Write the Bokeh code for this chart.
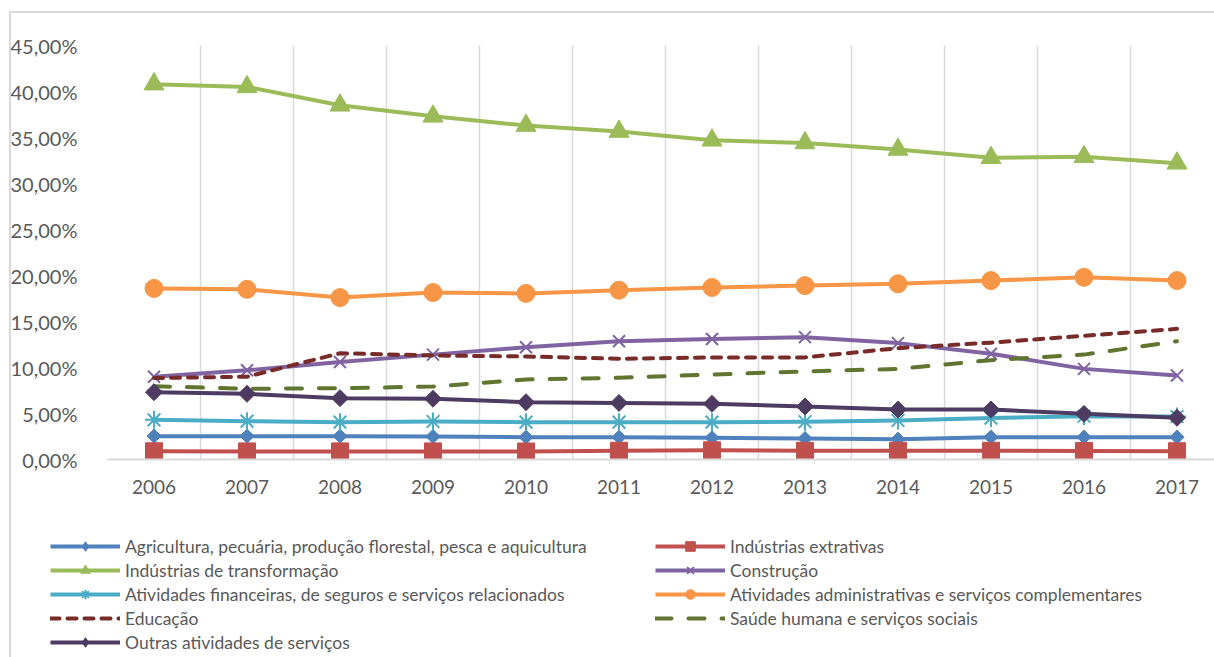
import math
from bokeh.plotting import figure
from bokeh.layouts import column
from bokeh.models import Range1d, FixedTicker, Legend, LegendItem, InlineStyleSheet
from bokeh.embed import file_html
from bokeh.resources import INLINE

# ---------------- data ----------------
years = [2006, 2007, 2008, 2009, 2010, 2011, 2012, 2013, 2014, 2015, 2016, 2017]

agricultura = [2.54, 2.54, 2.54, 2.50, 2.43, 2.43, 2.36, 2.28, 2.21, 2.43, 2.43, 2.43]
extrativas = [0.90, 0.88, 0.88, 0.88, 0.87, 0.95, 1.00, 0.95, 0.95, 0.95, 0.92, 0.90]
transformacao = [40.8, 40.5, 38.5, 37.3, 36.3, 35.65, 34.7, 34.4, 33.7, 32.8, 32.9, 32.2]
construcao = [9.0, 9.7, 10.6, 11.4, 12.2, 12.86, 13.1, 13.3, 12.65, 11.5, 9.85, 9.13]
financeiras = [4.31, 4.17, 4.06, 4.13, 4.06, 4.06, 4.06, 4.10, 4.24, 4.50, 4.70, 4.67]
administrativas = [18.6, 18.5, 17.6, 18.15, 18.05, 18.4, 18.7, 18.9, 19.1, 19.45, 19.8, 19.45]
educacao = [8.85, 9.0, 11.55, 11.3, 11.2, 10.95, 11.1, 11.1, 12.1, 12.7, 13.45, 14.2]
saude = [7.97, 7.68, 7.75, 7.93, 8.7, 8.88, 9.24, 9.57, 9.85, 10.8, 11.4, 12.86]
outras = [7.32, 7.14, 6.67, 6.60, 6.23, 6.15, 6.05, 5.76, 5.43, 5.43, 4.96, 4.53]

y_ticks = [0, 5, 10, 15, 20, 25, 30, 35, 40, 45]

# name, values, color, dash, marker, size, angle, legend marker, legend size
series = [
    ("Agricultura, pecuária, produção florestal, pesca e aquicultura", agricultura, "#4F81BD", "solid", "square", 10, math.pi / 4, "diamond", 14),
    ("Indústrias extrativas", extrativas, "#C0504D", "solid", "square", 17, 0, "square", 13),
    ("Indústrias de transformação", transformacao, "#9BBB59", "solid", "triangle", 20, 0, "triangle", 13),
    ("Construção", construcao, "#8064A2", "solid", "x", 17, 0, "x", 11),
    ("Atividades financeiras, de seguros e serviços relacionados", financeiras, "#4BACC6", "solid", "asterisk", 18, 0, "asterisk", 11),
    ("Atividades administrativas e serviços complementares", administrativas, "#F79646", "solid", "circle", 18, 0, "circle", 14),
    ("Educação", educacao, "#772C2A", "9 8", None, 0, 0, None, 0),
    ("Saúde humana e serviços sociais", saude, "#5F7530", "16 17", None, 0, 0, None, 0),
    ("Outras atividades de serviços", outras, "#4D3B62", "solid", "square", 12, math.pi / 4, "diamond", 15),
]

FONT = "Lato"
TEXT = "#595959"
GRID = "#D9D9D9"

px_per_year = 93.0
frame_w = 1214 - 107
TOP_H = 520
p = figure(
    width=1214, height=TOP_H,
    output_backend="svg", toolbar_location=None,
    x_range=Range1d(years[0] - 0.5, years[0] - 0.5 + frame_w / px_per_year),
    y_range=Range1d(0, 45),
    min_border_left=107, min_border_right=0, min_border_top=45, min_border_bottom=TOP_H - 459,
)
p.frame_align = False
p.outline_line_color = None
p.background_fill_color = "white"
p.border_fill_color = "white"

# grid
p.ygrid.grid_line_color = None
p.xgrid.ticker = FixedTicker(ticks=[y - 0.5 for y in years] + [years[-1] + 0.5])
p.xgrid.grid_line_color = GRID
p.xgrid.grid_line_width = 1.5

# axes
p.xaxis.ticker = FixedTicker(ticks=years)
p.xaxis.major_label_overrides = {y: str(y) for y in years}
p.xaxis.axis_line_color = GRID
p.xaxis.axis_line_width = 2
p.xaxis.major_tick_line_color = None
p.xaxis.minor_tick_line_color = None
p.xaxis.major_label_standoff = 14
p.xaxis.major_label_text_font = FONT
p.xaxis.major_label_text_font_size = "19px"
p.xaxis.major_label_text_color = TEXT

p.yaxis.ticker = FixedTicker(ticks=y_ticks)
p.yaxis.major_label_overrides = {t: f"{t},00%" for t in y_ticks}
p.yaxis.axis_line_color = None
p.yaxis.major_tick_line_color = None
p.yaxis.minor_tick_line_color = None
p.yaxis.major_label_standoff = 24
p.yaxis.major_label_text_font = FONT
p.yaxis.major_label_text_font_size = "20px"
p.yaxis.major_label_text_color = TEXT

# legend figure (below the chart); its ranges keep the proxy series out of view
LEG_H = 657 - TOP_H
lf = figure(width=1214, height=LEG_H, output_backend="svg", toolbar_location=None,
            x_range=Range1d(0, 1), y_range=Range1d(-1000, -999),
            min_border_left=0, min_border_right=0, min_border_top=0, min_border_bottom=0)
lf.frame_align = False
lf.axis.visible = False
lf.grid.visible = False
lf.outline_line_color = None
lf.background_fill_color = "white"
lf.border_fill_color = "white"


def draw(fig, xs, ys, color, dash, marker, size, angle):
    rs = [fig.line(xs, ys, line_color=color, line_width=4, line_dash=dash,
                   line_cap="round" if dash != "solid" else "butt", line_join="round")]
    if marker is not None:
        if marker in ("x", "asterisk"):
            rs.append(fig.scatter(xs, ys, marker=marker, size=size, line_color=color,
                                  line_width=2, fill_color=None))
        else:
            rs.append(fig.scatter(xs, ys, marker=marker, size=size, angle=angle,
                                  fill_color=color, line_color=color, line_width=1))
    return rs


items = []
for name, vals, color, dash, marker, size, angle, lmarker, lsize in series:
    draw(p, years, vals, color, dash, marker, size, angle)
    proxy = draw(lf, years, vals, color, dash, lmarker, lsize, 0)
    items.append(LegendItem(label=name, renderers=proxy))


def make_legend(its, loc):
    lg = Legend(items=its, location=loc, orientation="vertical")
    lg.glyph_width = 70
    lg.glyph_height = 24
    lg.label_height = 24
    lg.label_standoff = 5
    lg.spacing = 0
    lg.padding = 0
    lg.margin = 0
    lg.border_line_color = None
    lg.background_fill_alpha = 0
    lg.label_text_font = FONT
    lg.label_text_font_size = "17.5px"
    lg.label_text_color = TEXT
    return lg


lf.add_layout(make_legend(items[0::2], (50, 657 - 654)))
lf.add_layout(make_legend(items[1::2], (655, 657 - 630)))

layout = column(p, lf, spacing=0)
layout.stylesheets = [InlineStyleSheet(css="""
:host { position: relative; }
:host::after {
  content: "";
  position: absolute;
  left: 9px; top: 11px; width: 1400px; height: 900px;
  border-top: 2px solid #D9D9D9;
  border-left: 2px solid #D9D9D9;
  pointer-events: none;
  box-sizing: border-box;
}
""")]
open("out.html", "w").write(file_html(layout, INLINE))
